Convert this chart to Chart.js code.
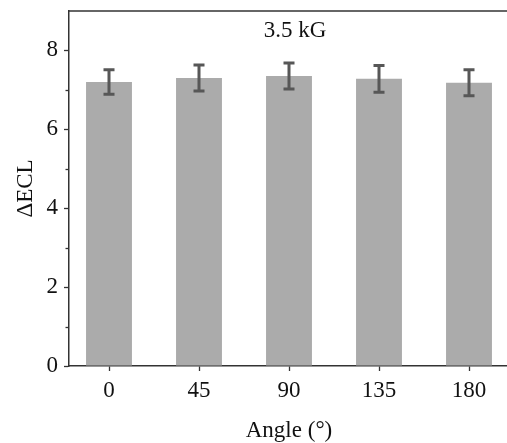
<!DOCTYPE html>
<html>
<head>
<meta charset="utf-8">
<script src="https://cdn.jsdelivr.net/npm/chart.js@4/dist/chart.umd.min.js"></script>
<style>
  html, body { margin: 0; padding: 0; background: #fff; overflow: hidden; }
  #wrap { position: absolute; left: 0; top: 0; width: 520px; height: 443px; }
</style>
</head>
<body>
<div id="wrap"><canvas id="c"></canvas></div>
<script>
// Field orientation angles (degrees) and the measured ECL change with its error
const angles = [0, 45, 90, 135, 180];
const ecl = [7.20, 7.30, 7.35, 7.28, 7.18];
const eclErr = [0.31, 0.33, 0.33, 0.34, 0.33];
const yMajorTicks = [0, 2, 4, 6, 8];
const yMinorTicks = [1, 3, 5, 7];
const panelLabel = '3.5 kG';

const FONT = "'Liberation Serif', 'Times New Roman', serif";
const AXIS = '#333333';

// error bars, minor ticks, top frame line and the field label
const extras = {
  id: 'extras',
  afterDatasetsDraw(chart) {
    const { ctx, chartArea, scales: { x, y } } = chart;
    ctx.save();
    // error bars
    ctx.strokeStyle = '#575757';
    ctx.lineWidth = 3;
    ctx.lineCap = 'butt';
    angles.forEach((a, i) => {
      const px = x.getPixelForValue(a);
      const top = y.getPixelForValue(ecl[i] + eclErr[i]);
      const bot = y.getPixelForValue(ecl[i] - eclErr[i]);
      ctx.beginPath();
      ctx.moveTo(px, top); ctx.lineTo(px, bot);
      ctx.moveTo(px - 5.5, top); ctx.lineTo(px + 5.5, top);
      ctx.moveTo(px - 5.5, bot); ctx.lineTo(px + 5.5, bot);
      ctx.stroke();
    });
    // minor ticks on the value axis
    ctx.strokeStyle = AXIS;
    ctx.lineWidth = 1.3;
    yMinorTicks.forEach(v => {
      const py = Math.round(y.getPixelForValue(v)) + 0.5;
      ctx.beginPath();
      ctx.moveTo(chartArea.left - 3.5, py);
      ctx.lineTo(chartArea.left, py);
      ctx.stroke();
    });
    // top frame line
    ctx.lineWidth = 1.5;
    ctx.beginPath();
    ctx.moveTo(chartArea.left, chartArea.top);
    ctx.lineTo(chart.width, chartArea.top);
    ctx.stroke();
    // field label
    ctx.fillStyle = '#111';
    ctx.font = "23px " + FONT;
    ctx.textAlign = 'center';
    ctx.textBaseline = 'middle';
    ctx.fillText(panelLabel, x.getPixelForValue(93), y.getPixelForValue(8.5));
    ctx.restore();
  }
};

new Chart(document.getElementById('c'), {
  type: 'bar',
  data: {
    datasets: [{
      data: angles.map((a, i) => ({ x: a, y: ecl[i] })),
      backgroundColor: '#ababab',
      borderWidth: 0,
      barPercentage: 0.51,
      categoryPercentage: 1
    }]
  },
  options: {
    responsive: true,
    maintainAspectRatio: false,
    animation: false,
    layout: { padding: { top: 11, right: 11, left: 0, bottom: 0 } },
    plugins: { legend: { display: false }, tooltip: { enabled: false } },
    scales: {
      x: {
        type: 'linear',
        min: -20,
        max: 200,
        offset: false,
        afterBuildTicks: s => { s.ticks = angles.map(v => ({ value: v })); },
        afterFit: s => { s.height = 77; s.paddingLeft = 0; s.paddingRight = 0; },
        ticks: {
          color: '#111',
          font: { family: FONT, size: 23 },
          padding: 6,
          maxRotation: 0,
          callback: v => String(v)
        },
        grid: { offset: false, drawOnChartArea: false, drawTicks: true, tickLength: 5, tickColor: AXIS, tickWidth: 1.3 },
        border: { display: true, color: AXIS, width: 1.5 },
        title: {
          display: true,
          text: 'Angle (°)',
          color: '#111',
          font: { family: FONT, size: 23 },
          padding: { top: 0, bottom: -2 }
        }
      },
      y: {
        min: 0,
        max: 9,
        afterBuildTicks: s => { s.ticks = yMajorTicks.map(v => ({ value: v })); },
        afterFit: s => { s.width = 69; s.paddingTop = 0; s.paddingBottom = 0; },
        ticks: {
          color: '#111',
          font: { family: FONT, size: 23 },
          padding: 6
        },
        grid: { drawOnChartArea: false, drawTicks: true, tickLength: 5, tickColor: AXIS, tickWidth: 1.3 },
        border: { display: true, color: AXIS, width: 1.5 },
        title: {
          display: true,
          text: 'ΔECL',
          color: '#111',
          font: { family: FONT, size: 23 },
          padding: { top: 12, bottom: 0 }
        }
      }
    }
  },
  plugins: [extras]
});
</script>
</body>
</html>
